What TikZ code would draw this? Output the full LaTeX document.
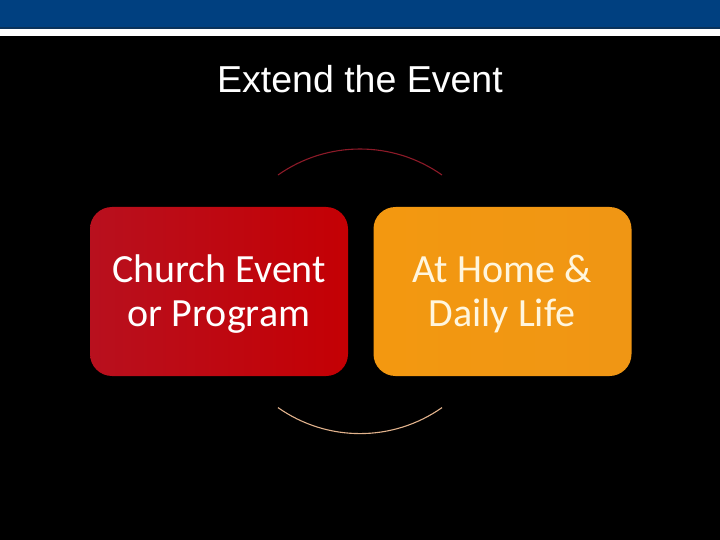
\documentclass[tikz,border=0pt]{standalone}
\usepackage{fontspec}
\setmainfont{Liberation Sans}
\newfontfamily\boxfont{Carlito}
\definecolor{bandblue}{RGB}{0,64,128}
\definecolor{banddark}{RGB}{10,50,90}
\definecolor{redA}{RGB}{184,16,30}
\definecolor{redB}{RGB}{208,6,12}
\definecolor{redC}{RGB}{196,0,4}
\definecolor{orA}{RGB}{243,152,16}
\definecolor{orB}{RGB}{248,160,8}
\definecolor{orC}{RGB}{240,150,20}
\definecolor{arcTop}{RGB}{140,26,40}
\definecolor{arcBot}{RGB}{225,178,140}
\definecolor{cream}{RGB}{255,246,222}
\tikzset{
  stagebox/.style={rectangle, rounded corners=22pt, minimum width=258pt, minimum height=169pt,
    inner sep=0pt},
  stagetext/.style={align=center, inner sep=0pt, font=\boxfont\fontsize{40}{43.5}\selectfont},
  loop/.style={line width=1.1pt}
}
\begin{document}
\begin{tikzpicture}[x=1pt,y=-1pt]
\useasboundingbox (0,0) rectangle (720,540);
\fill[black] (0,0) rectangle (720,540);
\fill[bandblue] (0,0) rectangle (720,27);
\fill[banddark] (0,27) rectangle (720,29);
\fill[white] (0,29) rectangle (720,36);
\node[font=\fontsize{37.5}{40}\selectfont, text=white, anchor=base] (title) at (360,93) {Extend the Event};
\node[stagebox, left color=redA, middle color=redB, right color=redC] (church) at (219,291.5) {};
\node[stagebox, left color=orA, middle color=orB, right color=orC] (home) at (502.5,291.5) {};
\node[stagetext, text=white] (churchtxt) at (219,294) {Church Event\\or Program};
\node[stagetext, text=cream] (hometxt) at (502,294) {At Home \&\\Daily Life};
\coordinate (ctr) at (360,291.3);
\draw[loop, arcTop] ([shift={(234.8:142.3)}]ctr) arc[start angle=234.8, end angle=305.2, radius=142.3];
\draw[loop, arcBot] ([shift={(54.8:142.3)}]ctr) arc[start angle=54.8, end angle=125.2, radius=142.3];
\end{tikzpicture}
\end{document}
